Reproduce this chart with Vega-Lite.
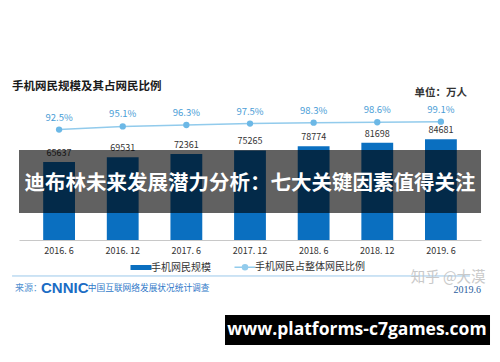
{
  "$schema": "https://vega.github.io/schema/vega-lite/v6.json",
  "width": 462,
  "height": 140,
  "autosize": {"type": "none"},
  "padding": {"left": 19, "top": 100, "right": 19, "bottom": 122},
  "background": "white",
  "title": {
    "text": "手机网民规模及其占网民比例",
    "anchor": "start",
    "frame": "group",
    "font": "Noto Sans CJK SC",
    "fontSize": 11.5,
    "fontWeight": "bold",
    "color": "#1a1a1a",
    "dx": -7,
    "dy": 13,
    "offset": 9
  },
  "datasets": {
    "mobile": [
      {"period": "2016. 6", "users": 65637, "ratio": 0.925},
      {"period": "2016. 12", "users": 69531, "ratio": 0.951},
      {"period": "2017. 6", "users": 72361, "ratio": 0.963},
      {"period": "2017. 12", "users": 75265, "ratio": 0.975},
      {"period": "2018. 6", "users": 78774, "ratio": 0.983},
      {"period": "2018. 12", "users": 81698, "ratio": 0.986},
      {"period": "2019. 6", "users": 84681, "ratio": 0.991}
    ],
    "notes": [{}]
  },
  "layer": [
    {
      "data": {"name": "mobile"},
      "encoding": {
        "x": {
          "field": "period",
          "type": "nominal",
          "sort": null,
          "scale": {"paddingInner": 0.5, "paddingOuter": 0.38},
          "axis": {
            "title": null,
            "labelAngle": 0,
            "ticks": false,
            "labelPadding": 6,
            "labelFont": "Noto Sans CJK SC",
            "labelFontSize": 9,
            "labelColor": "#333333",
            "domainColor": "#c8c8c8",
            "grid": false
          }
        }
      },
      "layer": [
        {
          "encoding": {
            "y": {"field": "users", "type": "quantitative", "scale": {"domain": [0, 117730]}, "axis": null}
          },
          "layer": [
            {
              "mark": {"type": "bar"},
              "encoding": {
                "color": {
                  "datum": "手机网民规模",
                  "scale": {"domain": ["手机网民规模", "手机网民占整体网民比例"], "range": ["#0a6fc0", "#92cbec"]},
                  "legend": {
                    "title": null,
                    "orient": "bottom",
                    "direction": "horizontal",
                    "offset": 7,
                    "labelFont": "Noto Sans CJK SC",
                    "labelFontSize": 10,
                    "labelColor": "#333333",
                    "labelOffset": 5,
                    "columnPadding": 20,
                    "symbolSize": 441,
                    "encode": {
                      "symbols": {
                        "update": {
                          "shape": {"signal": "datum.value === '手机网民规模' ? 'M-1,-0.24H1V0.24H-1Z' : 'M-1,0H1M0.24,0A0.24,0.24,0,1,1,-0.24,0A0.24,0.24,0,1,1,0.24,0Z'"},
                          "fill": {"signal": "datum.value === '手机网民规模' ? '#0a6fc0' : '#6cb8e6'"},
                          "stroke": {"signal": "datum.value === '手机网民规模' ? '#0a6fc0' : '#92cbec'"},
                          "strokeWidth": {"signal": "datum.value === '手机网民规模' ? 0 : 1.5"},
                          "opacity": {"value": 1},
                          "fillOpacity": {"value": 1}
                        }
                      }
                    }
                  }
                }
              }
            },
            {
              "mark": {"type": "text", "baseline": "bottom", "dy": -4, "font": "Noto Sans CJK SC", "fontSize": 9, "color": "#333333"},
              "encoding": {"text": {"field": "users", "type": "quantitative", "format": "d"}}
            }
          ]
        },
        {
          "encoding": {
            "y": {"field": "ratio", "type": "quantitative", "scale": {"domain": [0, 1.1725]}, "axis": null}
          },
          "layer": [
            {
              "mark": {"type": "line", "strokeWidth": 1.5},
              "encoding": {"color": {"datum": "手机网民占整体网民比例"}}
            },
            {
              "mark": {"type": "circle", "size": 40, "color": "#6cb8e6", "opacity": 1}
            },
            {
              "mark": {"type": "text", "baseline": "bottom", "dy": -7, "font": "Noto Sans CJK SC", "fontSize": 9.5, "color": "#4a9dd6"},
              "encoding": {"text": {"field": "ratio", "type": "quantitative", "format": ".1%"}}
            }
          ]
        }
      ],
      "resolve": {"scale": {"y": "independent"}}
    },
    {
      "data": {"name": "notes"},
      "encoding": {
        "x": {"type": "quantitative", "scale": {"domain": [0, 1]}, "axis": null},
        "y": {"type": "quantitative", "scale": {"domain": [0, 1]}, "axis": null}
      },
      "layer": [
        {
          "mark": {"type": "text", "text": "单位：万人", "align": "right", "baseline": "middle", "font": "Noto Sans CJK SC", "fontSize": 10.5, "fontWeight": "bold", "color": "#333333"},
          "encoding": {"x": {"datum": 0.9697, "type": "quantitative"}, "y": {"datum": 1.048, "type": "quantitative"}}
        },
        {
          "mark": {"type": "rule", "color": "#9cc8ea", "strokeWidth": 1},
          "encoding": {"x": {"datum": -0.015, "type": "quantitative"}, "x2": {"datum": 0.976}, "y": {"datum": -0.257, "type": "quantitative"}}
        },
        {
          "mark": {"type": "text", "text": "来源：", "align": "left", "baseline": "middle", "font": "Noto Sans CJK SC", "fontSize": 9, "color": "#4f8fd0"},
          "encoding": {"x": {"datum": -0.0087, "type": "quantitative"}, "y": {"datum": -0.343, "type": "quantitative"}}
        },
        {
          "mark": {"type": "text", "text": "CNNIC", "align": "left", "baseline": "middle", "font": "Liberation Sans", "fontSize": 15, "fontWeight": "bold", "color": "#1b6cc4"},
          "encoding": {"x": {"datum": 0.0476, "type": "quantitative"}, "y": {"datum": -0.343, "type": "quantitative"}}
        },
        {
          "mark": {"type": "text", "text": "中国互联网络发展状况统计调查", "align": "left", "baseline": "middle", "font": "Noto Sans CJK SC", "fontSize": 8.7, "color": "#2f78c8"},
          "encoding": {"x": {"datum": 0.149, "type": "quantitative"}, "y": {"datum": -0.343, "type": "quantitative"}}
        },
        {
          "mark": {"type": "text", "text": "知乎 @大漠", "align": "right", "baseline": "middle", "font": "Noto Sans CJK SC", "fontSize": 14.5, "color": "#c4c4c4", "opacity": 0.9},
          "encoding": {"x": {"datum": 1.01, "type": "quantitative"}, "y": {"datum": -0.27, "type": "quantitative"}}
        },
        {
          "mark": {"type": "text", "text": "2019.6", "align": "right", "baseline": "middle", "font": "Liberation Serif", "fontSize": 10, "color": "#2a5ea0"},
          "encoding": {"x": {"datum": 1.0, "type": "quantitative"}, "y": {"datum": -0.36, "type": "quantitative"}}
        },
        {
          "mark": {"type": "rect", "color": "#000000", "opacity": 0.62},
          "encoding": {"x": {"datum": 0, "type": "quantitative"}, "x2": {"datum": 1}, "y": {"datum": 0.643, "type": "quantitative"}, "y2": {"datum": 0.193}}
        },
        {
          "mark": {"type": "text", "text": "迪布林未来发展潜力分析：七大关键因素值得关注", "align": "center", "baseline": "middle", "font": "Noto Sans CJK SC", "fontSize": 20.5, "fontWeight": "bold", "color": "#ffffff"},
          "encoding": {"x": {"datum": 0.5, "type": "quantitative"}, "y": {"datum": 0.4, "type": "quantitative"}}
        },
        {
          "mark": {"type": "rect", "color": "#000000", "opacity": 1},
          "encoding": {"x": {"datum": 0.4459, "type": "quantitative"}, "x2": {"datum": 1.0195}, "y": {"datum": -0.5357, "type": "quantitative"}, "y2": {"datum": -0.75}}
        },
        {
          "mark": {"type": "text", "text": "www.platforms-c7games.com", "align": "center", "baseline": "middle", "font": "Open Sans", "fontSize": 17.5, "fontWeight": "bold", "color": "#ffffff"},
          "encoding": {"x": {"datum": 0.7316, "type": "quantitative"}, "y": {"datum": -0.643, "type": "quantitative"}}
        }
      ]
    }
  ],
  "resolve": {"scale": {"x": "independent", "y": "independent"}},
  "config": {
    "view": {"stroke": null},
    "legend": {"layout": {"bottom": {"anchor": "middle"}}}
  }
}
